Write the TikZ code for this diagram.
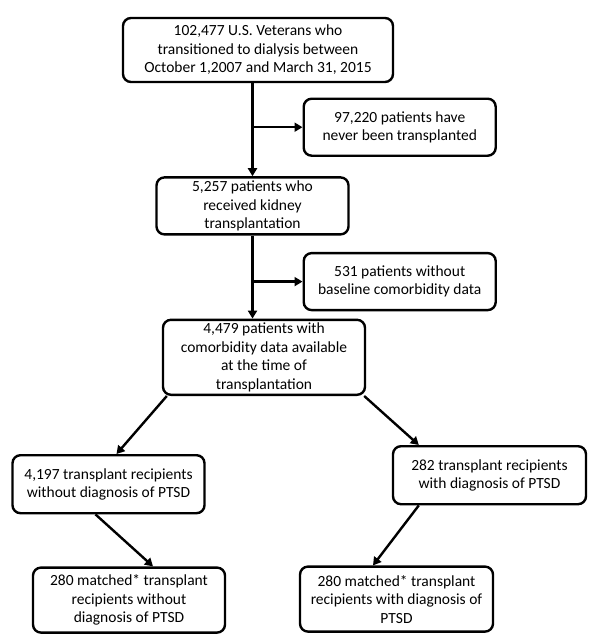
\documentclass[tikz,border=0pt]{standalone}
\usepackage{fontspec}
\setmainfont{Carlito}
\usetikzlibrary{positioning, arrows.meta}

\begin{document}
\begin{tikzpicture}[x=1pt, y=1pt, >={Triangle[length=8pt,width=9pt]},
		every node/.style={font=\fontsize{15.5}{18.5}\selectfont},
		box/.style={draw, line width=2.4pt, rounded corners=8pt, align=center, inner sep=0pt, minimum width=192pt, minimum height=57pt}]
		\useasboundingbox (0,0) rectangle (593,-642);
		\node[box,minimum width=270pt,minimum height=64pt] (vets) at (258,-50) {102,477 U.S. Veterans who\\transitioned to dialysis between\\October 1,2007 and March 31, 2015};
		\node[box] (trans) [below=93pt of vets, xshift=-5.5pt] {5,257 patients who\\received kidney\\transplantation};
		\coordinate (split1) at ([yshift=-44pt]trans.north |- vets.south);
		\node[box] (never) [right=50pt of split1] {97,220 patients have\\never been transplanted};
		\node[box,minimum width=202pt,minimum height=75pt] (comorb) [below=83pt of trans, xshift=11.5pt] {4,479 patients with\\comorbidity data available\\at the time of\\transplantation};
		\coordinate (split2) at ([yshift=-46pt]trans.south);
		\node[box] (nocomorb) [right=50pt of split2] {531 patients without\\baseline comorbidity data};
		\node[box,minimum height=58pt] (noptsd) [below=58pt of comorb, xshift=-155.5pt] {4,197 transplant recipients\\without diagnosis of PTSD};
		\node[box,minimum width=193pt,minimum height=58pt] (ptsd) [below=49pt of comorb, xshift=225.5pt] {282 transplant recipients\\with diagnosis of PTSD};
		\node[box,minimum height=65pt] (matchno) [below=52pt of noptsd, xshift=20.5pt] {280 matched* transplant\\recipients without\\diagnosis of PTSD};
		\node[box,minimum width=193pt,minimum height=65pt] (matchyes) [below=60pt of ptsd, xshift=-93pt] {280 matched* transplant\\recipients with diagnosis of\\PTSD};
		
		\path[->, line width=2.4pt]
		(trans.north |- vets.south) edge (trans.north)
		(split1) edge (never)
		(trans.south) edge (trans.south |- comorb.north)
		(split2) edge (nocomorb)
		([xshift=5pt]comorb.south west) edge ([xshift=8pt]noptsd.north)
		([xshift=-2pt]comorb.south east) edge ([xshift=27pt]ptsd.north west)
		([xshift=-13pt]noptsd.south) edge ([xshift=24pt]matchno.north)
		([xshift=27pt]ptsd.south west) edge ([xshift=-23.5pt]matchyes.north);
	\end{tikzpicture}
\end{document}
